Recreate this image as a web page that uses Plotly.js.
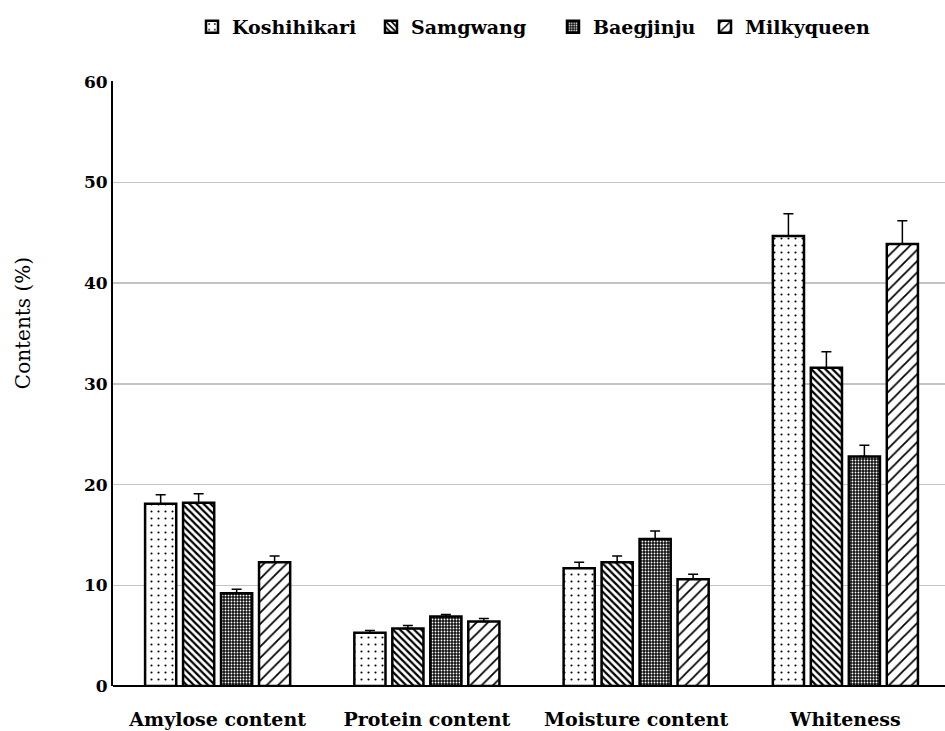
<!DOCTYPE html>
<html>
<head>
<meta charset="utf-8">
<script src="https://cdn.plot.ly/plotly-3.0.1.min.js"></script>
<style>html,body{margin:0;padding:0;background:#fff;}#chart{width:945px;height:731px;}</style>
</head>
<body>
<div id="chart"></div>
<script>
var categories = ["Amylose content", "Protein content", "Moisture content", "Whiteness"];
var seriesNames = ["Koshihikari", "Samgwang", "Baegjinju", "Milkyqueen"];
var koshihikari = [18.1, 5.3, 11.7, 44.7];
var koshihikariErr = [0.9, 0.2, 0.6, 2.2];
var samgwang = [18.2, 5.7, 12.3, 31.6];
var samgwangErr = [0.9, 0.3, 0.6, 1.6];
var baegjinju = [9.2, 6.9, 14.6, 22.8];
var baegjinjuErr = [0.4, 0.2, 0.8, 1.1];
var milkyqueen = [12.3, 6.4, 10.6, 43.9];
var milkyqueenErr = [0.6, 0.3, 0.5, 2.3];
var yTicks = [0, 10, 20, 30, 40, 50, 60];

var values = [koshihikari, samgwang, baegjinju, milkyqueen];
var errs = [koshihikariErr, samgwangErr, baegjinjuErr, milkyqueenErr];
var patterns = [
  {shape: ".", size: 7, solidity: 0.07, fgcolor: "#000", bgcolor: "#fff"},
  {shape: "\\", size: 5, solidity: 0.45, fgcolor: "#000", bgcolor: "#fff"},
  {shape: ".", size: 3, solidity: 0.3, fgcolor: "#fff", bgcolor: "#111"},
  {shape: "/", size: 8, solidity: 0.22, fgcolor: "#000", bgcolor: "#fff"}
];
var font = "DejaVu Serif, Liberation Serif, serif";
var legendNames = ["legend", "legend2", "legend3", "legend4"];
var legendX = [192, 371, 553, 705];

var traces = seriesNames.map(function (name, i) {
  return {
    type: "bar",
    name: name,
    legend: legendNames[i],
    x: categories,
    y: values[i],
    marker: {color: "#fff", line: {color: "#000", width: 2.5}, pattern: patterns[i]},
    error_y: {type: "data", symmetric: false, array: errs[i], arrayminus: errs[i].map(function () { return 0; }),
              color: "#000", thickness: 1.5, width: 5}
  };
});

var layout = {
  width: 945, height: 731,
  margin: {l: 113, r: 0, t: 81, b: 45},
  paper_bgcolor: "#fff", plot_bgcolor: "#fff",
  barmode: "group", bargap: 0.274, bargroupgap: 0.18,
  showlegend: true,
  xaxis: {type: "category", range: [-0.5, 3.476], showgrid: false, zeroline: false, showline: false,
          ticks: "", ticklabelstandoff: 20, tickfont: {family: font, size: 19, color: "#000", weight: "bold"}},
  yaxis: {range: [0, 60.08], tickvals: yTicks, ticktext: yTicks.map(String), showgrid: true, gridcolor: "#c4c4c4", gridwidth: 1.5,
          zeroline: true, zerolinecolor: "#000", zerolinewidth: 2, showline: true, linecolor: "#000", linewidth: 2,
          ticks: "", ticklabelstandoff: 0, tickfont: {family: font, size: 17, color: "#000", weight: "bold"}},
  annotations: [{text: "Contents (%)", xref: "paper", yref: "paper", x: -0.108, y: 0.6, xanchor: "center", yanchor: "middle",
                 textangle: -90, showarrow: false, font: {family: font, size: 20, color: "#000"}}]
};
legendNames.forEach(function (ln, i) {
  layout[ln] = {orientation: "h", xref: "container", yref: "container", x: legendX[i] / 945, y: 1 - 27 / 731,
                xanchor: "left", yanchor: "middle", bgcolor: "rgba(0,0,0,0)",
                font: {family: font, size: 19, color: "#000", weight: "bold"}};
});

Plotly.newPlot("chart", traces, layout, {displayModeBar: false, staticPlot: true});
</script>
</body>
</html>
